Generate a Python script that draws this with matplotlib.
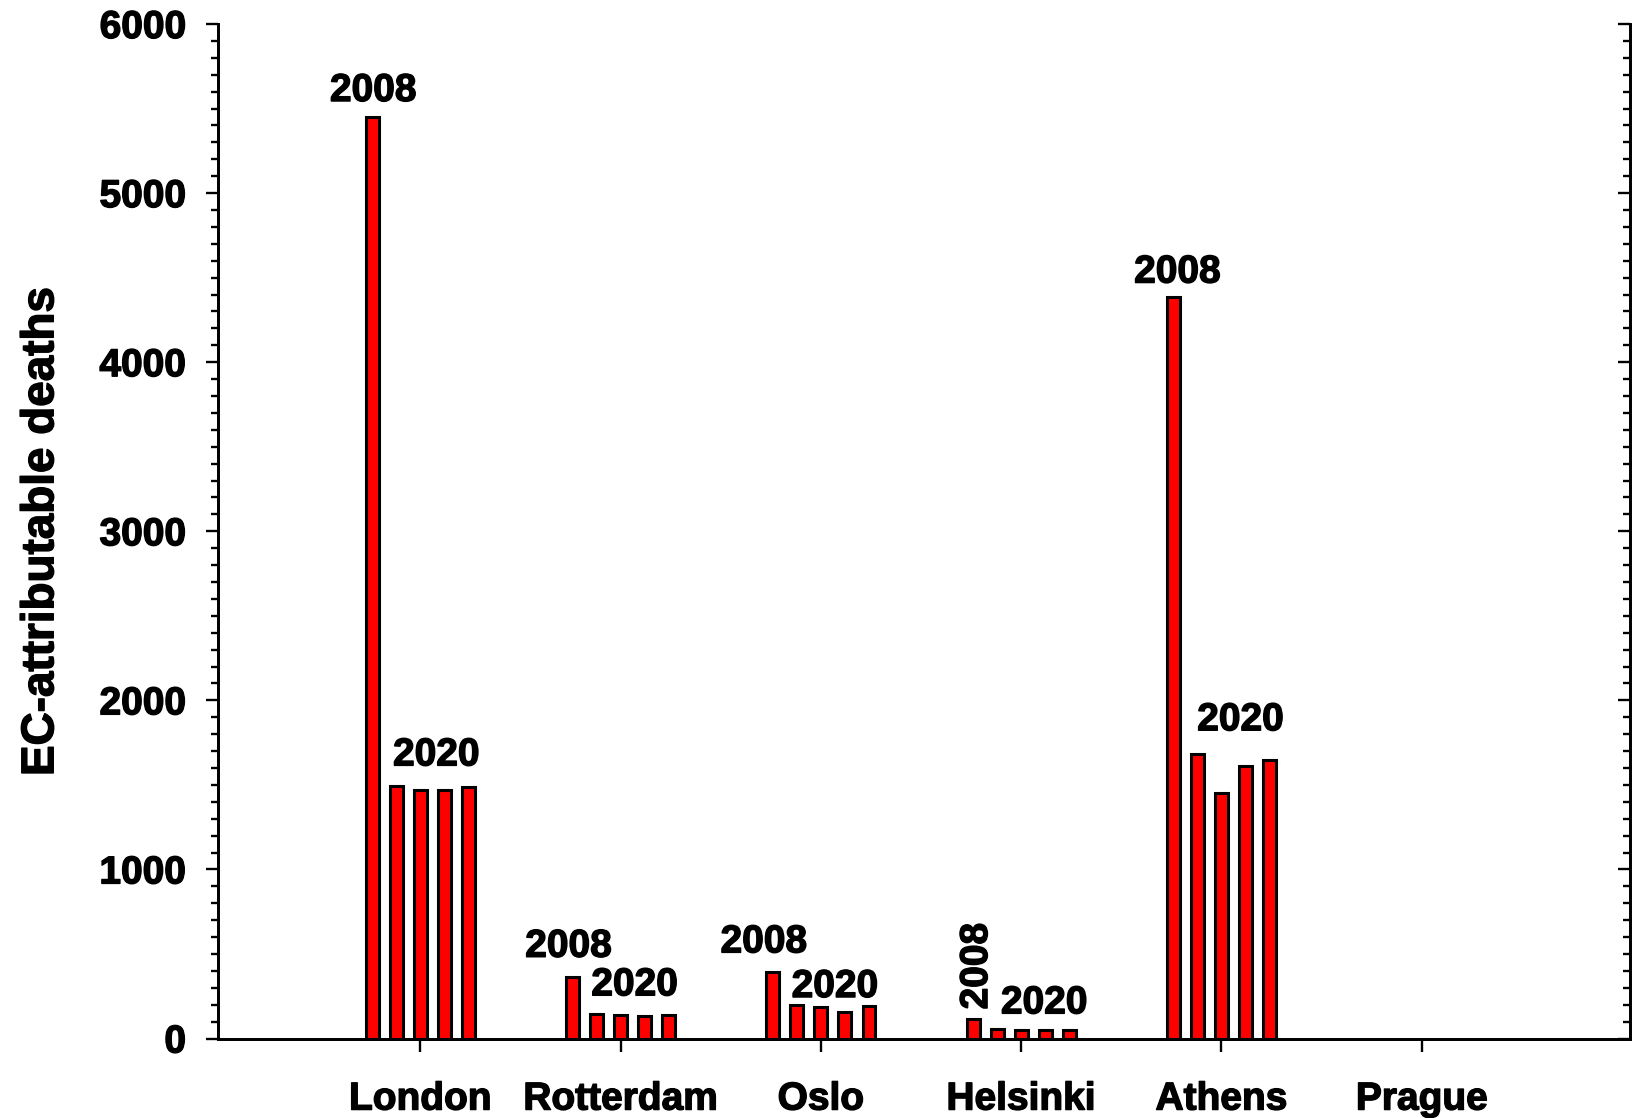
#!/usr/bin/env python3
import numpy as np
import matplotlib
matplotlib.use("Agg")
import matplotlib.pyplot as plt
import matplotlib.patheffects as pe
from matplotlib.ticker import MultipleLocator

# --- Data ---
cities = ["London", "Rotterdam", "Oslo", "Helsinki", "Athens", "Prague"]
deaths_2008 = [5450, 365, 391, 113, 4388, np.nan]
deaths_2020_a = [1491, 143, 198, 54, 1681, np.nan]
deaths_2020_b = [1472, 137, 188, 48, 1455, np.nan]
deaths_2020_c = [1467, 133, 158, 50, 1612, np.nan]
deaths_2020_d = [1485, 139, 194, 50, 1646, np.nan]
year_labels = ["2008", "2020"]

# --- Label nudges in pixels (dx, dy) so the years sit like in the original ---
nudge_2008 = {"London": (1, 8), "Rotterdam": (-4, 12), "Oslo": (-9, 12),
              "Helsinki": (4, 10), "Athens": (4, 6)}
nudge_2020 = {"London": (4, 13), "Rotterdam": (2, 11), "Oslo": (2, 0),
              "Helsinki": (11, 8), "Athens": (7, 16)}

plt.rcParams['font.family'] = ['Liberation Sans', 'DejaVu Sans']
plt.rcParams['font.weight'] = 'bold'
FS = 28
# thicker strokes so the text looks as heavy as the original
HEAVY = [pe.withStroke(linewidth=1.0, foreground='black')]

fig = plt.figure(figsize=(16.34, 11.18), dpi=100)
ax = fig.add_axes([0.1334, 0.0711, 0.9976 - 0.1334, 0.9785 - 0.0711])

x = np.arange(len(cities))
pitch = 0.12
bw = 0.064
series = [deaths_2008, deaths_2020_a, deaths_2020_b, deaths_2020_c, deaths_2020_d]
for i, vals in enumerate(series):
    ax.bar(x + (i - 2) * pitch, vals, width=bw, color='#ff0000',
           edgecolor='black', linewidth=2.2, zorder=3)

# --- year labels ---
for j, city in enumerate(cities):
    if np.isnan(deaths_2008[j]):
        continue
    top_2020 = max(s[j] for s in series[1:])
    rot = 90 if city == "Helsinki" else 0
    ax.annotate(year_labels[0], (x[j] - 2 * pitch, deaths_2008[j]),
                xytext=nudge_2008[city], textcoords='offset pixels',
                ha='center', va='bottom', rotation=rot,
                fontsize=FS, fontweight='bold', path_effects=HEAVY)
    ax.annotate(year_labels[1], (x[j] + 0.5 * pitch, top_2020),
                xytext=nudge_2020[city], textcoords='offset pixels',
                ha='center', va='bottom', fontsize=FS, fontweight='bold',
                path_effects=HEAVY)

# --- axes styling ---
ax.set_xlim(-1.01, 6.04)
ax.set_ylim(0, 6000)
ax.set_xticks(x)
ax.set_xticklabels(cities, fontsize=FS, fontweight='bold')
ax.yaxis.set_major_locator(MultipleLocator(1000))
ax.yaxis.set_minor_locator(MultipleLocator(100))
ax.tick_params(axis='y', which='major', direction='out', length=9, width=1.7,
               labelsize=FS, pad=14)
ax.tick_params(axis='y', which='minor', direction='out', length=5, width=1.7)
ax.tick_params(axis='x', which='major', direction='out', length=9, width=1.7,
               pad=22)
for lab in ax.get_yticklabels() + ax.get_xticklabels():
    lab.set_fontweight('bold')
    lab.set_path_effects(HEAVY)
ax.spines['top'].set_visible(False)
for side in ['left', 'right', 'bottom']:
    ax.spines[side].set_linewidth(2.0)

ax.set_ylabel("EC-attributable deaths", fontsize=33, fontweight='bold',
              labelpad=26, path_effects=HEAVY)

# right axis with inward ticks
ax2 = ax.twinx()
ax2.set_ylim(ax.get_ylim())
ax2.yaxis.set_major_locator(MultipleLocator(1000))
ax2.yaxis.set_minor_locator(MultipleLocator(100))
ax2.tick_params(axis='y', which='major', direction='in', length=9, width=1.7,
                labelright=False)
ax2.tick_params(axis='y', which='minor', direction='in', length=5, width=1.7)
ax2.spines['top'].set_visible(False)
for side in ['left', 'right', 'bottom']:
    ax2.spines[side].set_linewidth(2.0)

fig.savefig("out.png", dpi=100)
print("saved out.png")
